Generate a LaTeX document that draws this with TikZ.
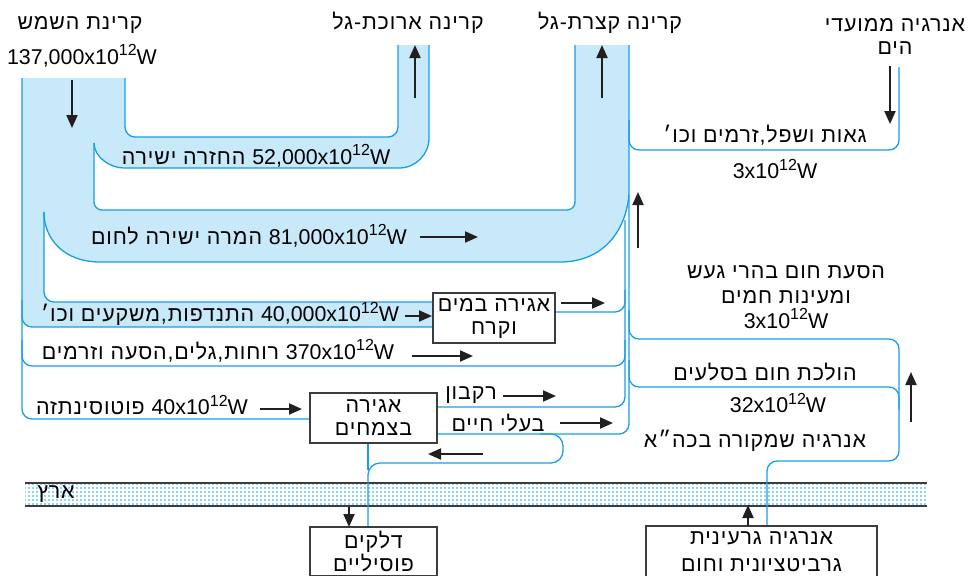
\documentclass[tikz,border=0pt]{standalone}
\usepackage{fontspec}
\setmainfont[Script=Hebrew]{Liberation Sans}
\newfontfamily\hebfont[Script=Hebrew,LetterSpace=4]{Liberation Sans}
\TeXXeTstate=1
\usetikzlibrary{arrows.meta}

\definecolor{bandblue}{RGB}{22,160,226}
\definecolor{bandlight}{RGB}{200,233,249}
\definecolor{earthdot}{RGB}{140,212,245}
\definecolor{inkblack}{RGB}{35,31,32}
\definecolor{boxgray}{RGB}{60,60,60}

\newcommand{\heb}[1]{{\hebfont\beginR #1\endR}}
\newcommand{\lat}[1]{\beginL{\rmfamily #1}\endL{}}
\newcommand{\tw}[1]{#1x10\raisebox{0.4em}{\fontsize{8}{8}\selectfont 12}W}

\begin{document}
\begin{tikzpicture}[x=0.5pt,y=-0.5pt,
    lbl/.style={font=\fontsize{10.7}{11.5}\selectfont, inner sep=0pt},
    bandline/.style={draw=bandblue, line width=0.65pt},
    storebox/.style={lbl, draw=boxgray, fill=white, line width=0.75pt, align=center},
    flowarrow/.style={draw=inkblack, line width=1pt, -{Triangle[length=6.5pt,width=5.5pt]}}]
    \useasboundingbox (0,0) rectangle (968,575);
    \clip (0,0) rectangle (968,575);

    % light blue bands
    \fill[bandlight] (22,78) [rounded corners=5pt] -- (22,327) [sharp corners] -- (433,327) -- (433,302)
        [rounded corners=5pt] -- (44,302) [sharp corners] -- (44,212) .. controls (44,240) and (65,262) .. (100,262)
        -- (560,262) .. controls (600,262) and (625,235) .. (629,195) -- (629,45) -- (575,45)
        [rounded corners=4pt] -- (575,210) -- (94,210) [sharp corners] -- (94,143) .. controls (94,157) and (110,168) .. (124,168)
        [rounded corners=15pt] -- (429,168) [sharp corners] -- (429,45) -- (398,45)
        [rounded corners=5pt] -- (398,137) -- (125,137) [sharp corners] -- (125,78) -- cycle;

    % earth layer
    \fill[earthdot] (25,483) rectangle (927,506);
    \foreach \xx in {27,31,...,927} \draw[white, line width=0.8pt] (\xx,483) -- (\xx,506);
    \foreach \yy in {486,490,...,506} \draw[white, line width=0.8pt] (25,\yy) -- (927,\yy);
    \draw[boxgray, line width=0.7pt] (25,483) -- (927,483) (25,506) -- (927,506);

    % band outlines
    \draw[bandline] (22,78) [rounded corners=5pt] -- (22,419) -- (310,419);
    \draw[bandline, rounded corners=5pt] (22,300) -- (22,327) -- (433,327);
    \draw[bandline, rounded corners=5pt] (433,302) -- (44,302) -- (44,212);
    \draw[bandline] (44,212) .. controls (44,240) and (65,262) .. (100,262) -- (560,262) .. controls (600,262) and (625,235) .. (629,195);
    \draw[bandline, rounded corners=4pt] (575,45) -- (575,210) -- (94,210) -- (94,143);
    \draw[bandline] (94,143) .. controls (94,157) and (110,168) .. (124,168) [rounded corners=15pt] -- (429,168) -- (429,45);
    \draw[bandline, rounded corners=5pt] (398,45) -- (398,137) -- (125,137) -- (125,78);
    \draw[bandline, rounded corners=5pt] (629,45) -- (629,434) -- (437,434);
    \draw[bandline, rounded corners=5pt] (22,340) -- (22,366) -- (625,366) -- (625,340);
    \draw[bandline, rounded corners=5pt] (437,407) -- (625,407) -- (625,220);
    \draw[bandline, rounded corners=5pt] (555,312) -- (625,312) -- (625,290);
    \draw[bandline, rounded corners=5pt] (629,120) -- (629,150) -- (899,150) -- (899,67);
    \draw[bandline, rounded corners=5pt] (629,310) -- (629,339) -- (899,339) -- (899,461) -- (767,461) -- (767,527);
    \draw[bandline, rounded corners=5pt] (629,360) -- (629,387) -- (899,387) -- (899,410);
    \draw[bandline, rounded corners=6pt] (540,434) -- (563,434) -- (563,463) -- (368,463) -- (368,527);
    \draw[bandline] (368,443) -- (368,470);

    % boxes
    \node[storebox, minimum width=61pt, minimum height=25pt] (water) at (494,318) {\heb{אגירה במים}\\\heb{וקרח}};
    \node[storebox, minimum width=63.5pt, minimum height=25pt] (plants) at (373.5,418) {\heb{אגירה}\\\heb{בצמחים}};
    \node[storebox, minimum width=63.5pt, minimum height=24.5pt] (fossil) at (373.5,551.5) {\heb{דלקים}\\\heb{פוסיליים}};
    \node[storebox, minimum width=115.5pt, minimum height=26pt, font=\fontsize{10.7}{13.5}\selectfont] (nuclear) at (761.5,552) {\heb{אנרגיה גרעינית}\\\heb{גרביטציונית וחום}};

    % labels
    \node[lbl] (sunlbl) at (80,25) {\heb{קרינת השמש}};
    \node[lbl] (sunval) at (82,56) {\tw{137,000}};
    \node[lbl] (longlbl) at (408,23) {\heb{קרינה ארוכת-גל}};
    \node[lbl] (shortlbl) at (610,23) {\heb{קרינה קצרת-גל}};
    \node[lbl, align=center] (tidelbl) at (895,36) {\heb{אנרגיה ממועדי}\\\heb{הים}};
    \node[lbl] (tidetxt) at (765,135) {\heb{גאות ושפל,זרמים וכו׳}};
    \node[lbl] (tideval) at (775,169) {\tw{3}};
    \node[lbl] (reflect) at (256,156) {\heb{\lat{\tw{52,000}} החזרה ישירה}};
    \node[lbl] (heat) at (249,236) {\heb{\lat{\tw{81,000}} המרה ישירה לחום}};
    \node[lbl] (evap) at (220,314) {\heb{\lat{\tw{40,000}} התנדפות,משקעים וכו׳}};
    \node[lbl] (wind) at (218,351) {\heb{\lat{\tw{370}} רוחות,גלים,הסעה וזרמים}};
    \node[lbl] (photo) at (142,405) {\heb{\lat{\tw{40}} פוטוסינתזה}};
    \node[lbl] (rot) at (471,395) {\heb{רקבון}};
    \node[lbl] (animals) at (498,423) {\heb{בעלי חיים}};
    \node[lbl, align=center, font=\fontsize{10.7}{12.5}\selectfont] (volcano) at (786,297) {\heb{הסעת חום בהרי געש}\\\heb{ומעינות חמים}\\\tw{3}};
    \node[lbl] (rocks) at (765,372) {\heb{הולכת חום בסלעים}};
    \node[lbl] (rockval) at (778,403) {\tw{32}};
    \node[lbl] (inner) at (755,441) {\heb{אנרגיה שמקורה בכה״א}};
    \node[lbl] (earthlbl) at (56,494) {\heb{ארץ}};

    % arrows
    \draw[flowarrow] (72,80) -- (72,128);
    \draw[flowarrow] (415,98) -- (415,45);
    \draw[flowarrow] (602,98) -- (602,45);
    \draw[flowarrow] (890,66) -- (890,124);
    \draw[flowarrow] (420,237) -- (478,237);
    \draw[flowarrow] (405,316) -- (432,316);
    \draw[flowarrow] (561,303) -- (605,303);
    \draw[flowarrow] (412,356) -- (473,356);
    \draw[flowarrow] (260,409) -- (302,409);
    \draw[flowarrow] (503,396) -- (556,396);
    \draw[flowarrow] (560,423) -- (613,423);
    \draw[flowarrow] (483,454) -- (428,454);
    \draw[flowarrow] (638,248) -- (638,192);
    \draw[flowarrow] (911,422) -- (911,372);
    \draw[flowarrow] (349,507) -- (349,527);
    \draw[flowarrow] (748,526) -- (748,505);
\end{tikzpicture}
\end{document}
